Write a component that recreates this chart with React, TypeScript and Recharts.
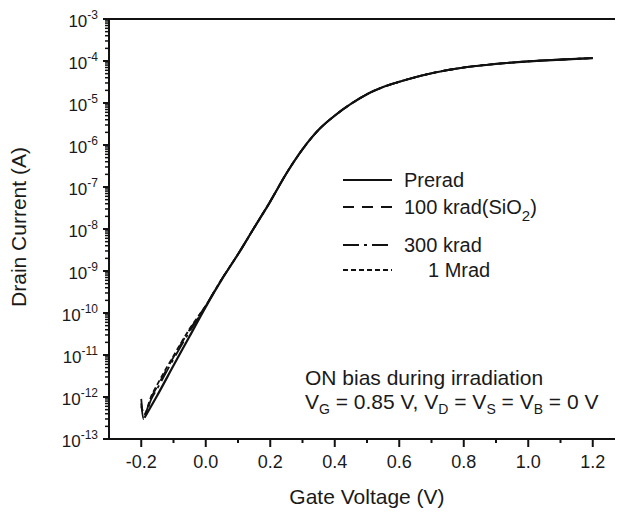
import React from 'react';
import { LineChart, Line, XAxis, YAxis, ReferenceLine, Legend, Label } from 'recharts';

const FONT = '"Liberation Sans", Arial, Helvetica, sans-serif';

// [gate voltage (V), drain current (A)]
const preradPoints: [number, number][] = [
  [-0.19, 3.2e-13], [-0.15, 1.1e-12], [-0.1, 5.6e-12], [-0.05, 2.8e-11], [0.0, 1.4e-10],
  [0.05, 6.3e-10], [0.1, 2.5e-9], [0.15, 1.07e-8], [0.2, 4.5e-8], [0.25, 2.1e-7],
  [0.3, 7.9e-7], [0.35, 2.3e-6], [0.4, 5.0e-6], [0.45, 9.5e-6], [0.5, 1.62e-5],
  [0.55, 2.4e-5], [0.6, 3.2e-5], [0.7, 5.1e-5], [0.8, 7.0e-5], [0.9, 8.5e-5],
  [1.0, 9.8e-5], [1.1, 1.08e-4], [1.2, 1.17e-4],
];
const krad100Points: [number, number][] = [
  [-0.2, 9.0e-13], [-0.193, 3.5e-13], [-0.17, 9.5e-13], [-0.15, 1.8e-12], [-0.1, 8.9e-12],
  [-0.05, 4.0e-11], [0.0, 1.5e-10], [0.05, 6.5e-10], [0.1, 2.5e-9], [0.15, 1.07e-8],
  [0.2, 4.6e-8], [0.25, 2.1e-7], [0.3, 7.9e-7], [0.35, 2.3e-6], [0.4, 5.0e-6],
  [0.45, 9.5e-6], [0.5, 1.62e-5], [0.55, 2.4e-5], [0.6, 3.2e-5], [0.7, 5.1e-5],
  [0.8, 7.0e-5], [0.9, 8.5e-5], [1.0, 9.8e-5], [1.1, 1.08e-4], [1.2, 1.17e-4],
];
const krad300Points: [number, number][] = [
  [-0.2, 7.0e-13], [-0.193, 3.0e-13], [-0.17, 8.5e-13], [-0.15, 1.6e-12], [-0.1, 8.0e-12],
  [-0.05, 3.6e-11], [0.0, 1.45e-10], [0.05, 6.4e-10], [0.1, 2.5e-9], [0.15, 1.07e-8],
  [0.2, 4.5e-8], [0.25, 2.1e-7], [0.3, 7.9e-7], [0.35, 2.3e-6], [0.4, 5.0e-6],
  [0.45, 9.5e-6], [0.5, 1.62e-5], [0.55, 2.4e-5], [0.6, 3.2e-5], [0.7, 5.1e-5],
  [0.8, 7.0e-5], [0.9, 8.5e-5], [1.0, 9.8e-5], [1.1, 1.08e-4], [1.2, 1.17e-4],
];
const mrad1Points: [number, number][] = [
  [-0.2, 6.0e-13], [-0.19, 4.0e-13], [-0.17, 1.0e-12], [-0.15, 2.0e-12], [-0.1, 9.5e-12],
  [-0.05, 4.2e-11], [0.0, 1.5e-10], [0.05, 6.5e-10], [0.1, 2.5e-9], [0.15, 1.07e-8],
  [0.2, 4.5e-8], [0.25, 2.1e-7], [0.3, 7.9e-7], [0.35, 2.3e-6], [0.4, 5.0e-6],
  [0.45, 9.5e-6], [0.5, 1.62e-5], [0.55, 2.4e-5], [0.6, 3.2e-5], [0.7, 5.1e-5],
  [0.8, 7.0e-5], [0.9, 8.5e-5], [1.0, 9.8e-5], [1.1, 1.08e-4], [1.2, 1.17e-4],
];

const xTicks = [-0.2, -0.1, 0.0, 0.1, 0.2, 0.3, 0.4, 0.5, 0.6, 0.7, 0.8, 0.9, 1.0, 1.1, 1.2, 1.3];
const xMajorLabels = ['-0.2', '0.0', '0.2', '0.4', '0.6', '0.8', '1.0', '1.2'];
const yDecades = [-13, -12, -11, -10, -9, -8, -7, -6, -5, -4, -3];
const yMantissas = [1, 2, 3, 4, 5, 6, 7, 8, 9];

const DASH_100K = '11 8';
const DASH_300K = '16 5 3 5';
const DASH_1M = '5 3';

const yTicks: number[] = [];
yDecades.forEach((d) => {
  yMantissas.forEach((m) => {
    const v = m * Math.pow(10, d);
    if (v <= 1.0001e-3) yTicks.push(v);
  });
});

const toRows = (pts: [number, number][]) => pts.map(([v, i]) => ({ v, i }));

const XTick = (props: any) => {
  const { x, y, payload } = props;
  const v: number = payload.value;
  const label = v.toFixed(1) === '-0.0' ? '0.0' : v.toFixed(1);
  const major = xMajorLabels.includes(label);
  return (
    <g>
      <line x1={x} x2={x} y1={y} y2={y + (major ? 8 : 4)} stroke="#111" strokeWidth={2} />
      {major && (
        <text x={x} y={y + 29} textAnchor="middle" fontSize={18} fontFamily={FONT} fill="#1a1a1a">
          {label}
        </text>
      )}
    </g>
  );
};

const YTick = (props: any) => {
  const { x, y, payload } = props;
  const v: number = payload.value;
  const lg = Math.log10(v);
  const e = Math.round(lg);
  const major = Math.abs(lg - e) < 1e-6;
  return (
    <g>
      <line x1={x} x2={x - (major ? 6 : 4)} y1={y} y2={y} stroke="#111" strokeWidth={major ? 2 : 1.5} />
      {major && (
        <text x={x - 11} y={y + 8} textAnchor="end" fontFamily={FONT} fill="#1a1a1a">
          <tspan fontSize={17}>10</tspan>
          <tspan fontSize={12} dy={-8}>{String(e)}</tspan>
        </text>
      )}
    </g>
  );
};

const legendItems = [
  { label: 'Prerad', dash: undefined as string | undefined, y: 15, tx: 64 },
  { label: '100 krad(SiO', dash: DASH_100K, y: 42, tx: 64 },
  { label: '300 krad', dash: DASH_300K, y: 80, tx: 64 },
  { label: '1 Mrad', dash: DASH_1M, y: 105, tx: 88 },
];

const renderLegend = () => (
  <svg width={230} height={130} style={{ display: 'block' }}>
    {legendItems.map((it, idx) => (
      <g key={idx}>
        <line x1={3} x2={52} y1={it.y} y2={it.y} stroke="#111" strokeWidth={2} strokeDasharray={it.dash} />
        <text x={it.tx} y={it.y + 7} fontSize={20} fontFamily={FONT} fill="#1a1a1a">
          {it.label}
          {idx === 1 && (
            <>
              <tspan fontSize={15} dy={7}>2</tspan>
              <tspan dy={-7}>)</tspan>
            </>
          )}
        </text>
      </g>
    ))}
  </svg>
);

export default function App() {
  return (
    <div style={{ position: 'relative', width: 615, height: 506, overflow: 'hidden', background: '#fff' }}>
      <LineChart width={620} height={506} margin={{ top: 11, right: 3, bottom: 0, left: 0 }}>
        <XAxis
          dataKey="v"
          type="number"
          domain={[-0.3, 1.3]}
          ticks={xTicks}
          interval={0}
          allowDataOverflow
          height={75}
          tickSize={0}
          tickMargin={0}
          tickLine={false}
          axisLine={{ stroke: '#111', strokeWidth: 2 }}
          tick={<XTick />}
        >
          <Label
            content={(p: any) => (
              <text
                x={p.viewBox.x + p.viewBox.width / 2}
                y={p.viewBox.y + 65}
                textAnchor="middle"
                fontSize={21}
                fontFamily={FONT}
                fill="#1a1a1a"
              >
                Gate Voltage (V)
              </text>
            )}
          />
        </XAxis>
        <YAxis
          dataKey="i"
          scale="log"
          domain={[1e-13, 1e-3]}
          ticks={yTicks}
          interval={0}
          allowDataOverflow
          width={101}
          tickSize={0}
          tickMargin={0}
          tickLine={false}
          axisLine={{ stroke: '#111', strokeWidth: 2 }}
          tick={<YTick />}
        >
          <Label
            content={(p: any) => (
              <text
                transform={`translate(${p.viewBox.x + 18}, ${p.viewBox.y + p.viewBox.height / 2 - 2}) rotate(-90)`}
                textAnchor="middle"
                fontSize={21}
                fontFamily={FONT}
                fill="#1a1a1a"
              >
                Drain Current (A)
              </text>
            )}
          />
        </YAxis>
        <ReferenceLine y={1e-3} stroke="#111" strokeWidth={2} />
        <Line data={toRows(mrad1Points)} dataKey="i" type="monotone" stroke="#111" strokeWidth={1.8} strokeDasharray={DASH_1M} dot={false} isAnimationActive={false} name="1 Mrad" />
        <Line data={toRows(krad300Points)} dataKey="i" type="monotone" stroke="#111" strokeWidth={1.8} strokeDasharray={DASH_300K} dot={false} isAnimationActive={false} name="300 krad" />
        <Line data={toRows(krad100Points)} dataKey="i" type="monotone" stroke="#111" strokeWidth={1.8} strokeDasharray={DASH_100K} dot={false} isAnimationActive={false} name="100 krad(SiO2)" />
        <Line data={toRows(preradPoints)} dataKey="i" type="monotone" stroke="#111" strokeWidth={2.2} dot={false} isAnimationActive={false} name="Prerad" />
        <Legend
          layout="vertical"
          align="center"
          verticalAlign="middle"
          wrapperStyle={{ position: 'absolute', left: 332, top: 157, width: 230, height: 130 }}
          content={renderLegend}
        />
      </LineChart>
      <svg
        width={320}
        height={80}
        style={{ position: 'absolute', left: 290, top: 345, pointerEvents: 'none' }}
      >
        <text x={7} y={32} fontSize={21} fontFamily={FONT} fill="#1a1a1a">
          ON bias during irradiation
        </text>
        <text x={7} y={56} fontSize={21} fontFamily={FONT} fill="#1a1a1a">
          <tspan>V</tspan>
          <tspan fontSize={14} dy={5}>G</tspan>
          <tspan dy={-5}>{' = 0.85 V,  V'}</tspan>
          <tspan fontSize={14} dy={5}>D</tspan>
          <tspan dy={-5}>{' = V'}</tspan>
          <tspan fontSize={14} dy={5}>S</tspan>
          <tspan dy={-5}>{' = V'}</tspan>
          <tspan fontSize={14} dy={5}>B</tspan>
          <tspan dy={-5}>{' = 0 V'}</tspan>
        </text>
      </svg>
    </div>
  );
}
